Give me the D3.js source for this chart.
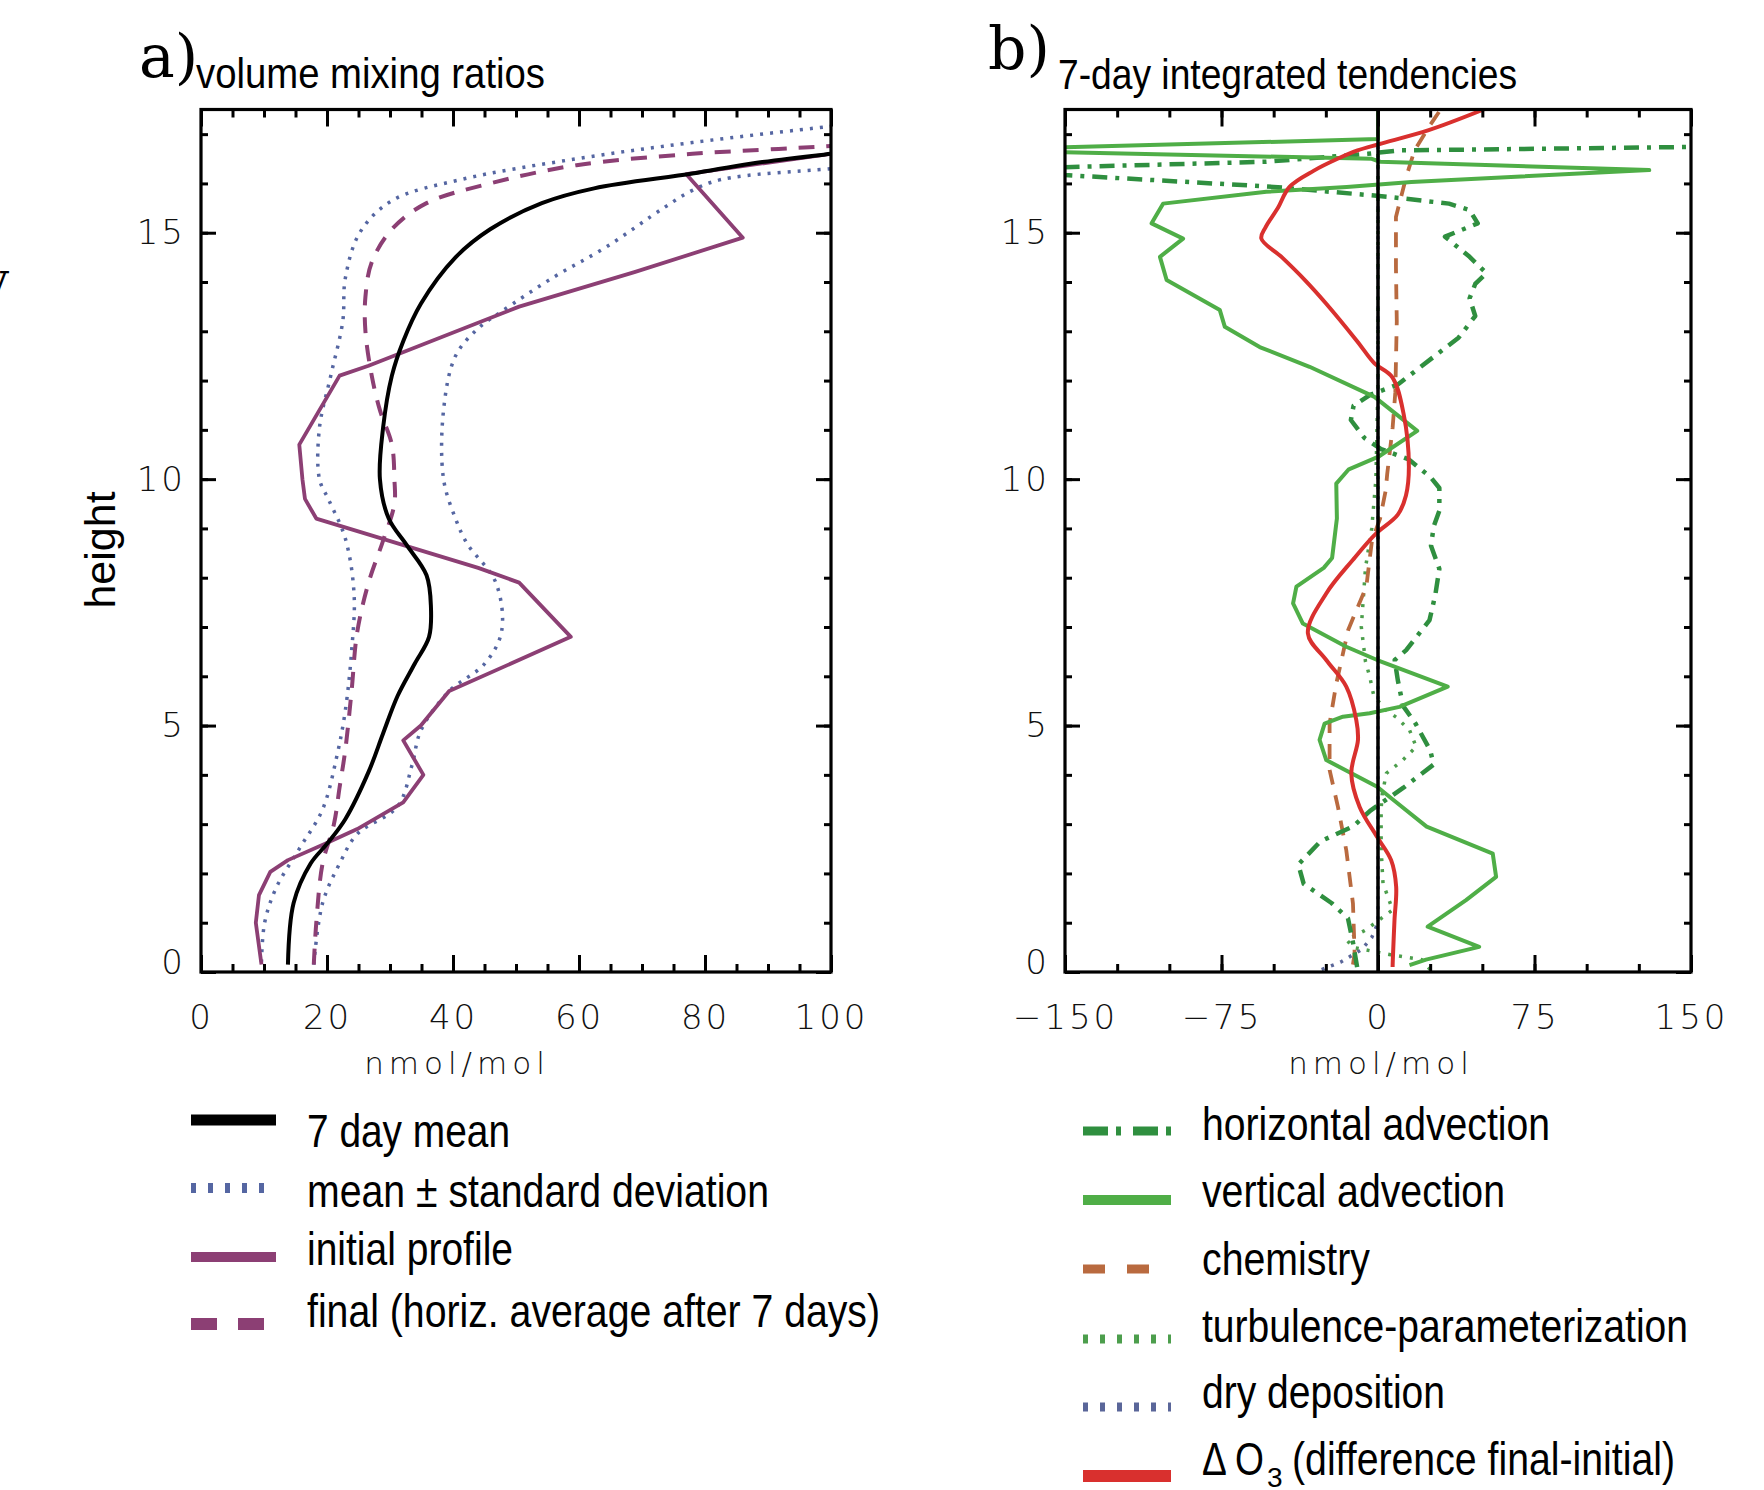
<!DOCTYPE html>
<html><head><meta charset="utf-8">
<script src="https://cdn.jsdelivr.net/npm/d3@7"></script>
<style>
body{margin:0;background:#fff}
.tick text{font-family:"DejaVu Sans",sans-serif;font-weight:200;fill:#111}
</style>
</head><body><svg id="c" width="1764" height="1490"></svg>
<script>
// ---------------- DATA ----------------
// Panel a: volume mixing ratios (height km, nmol/mol)
const hMean   = [0.15,1.4,2.2,2.6,3.1,4.06,4.84,5.6,6.25,6.8,7.4,8.05,8.67,9.2,10,11.04,12.1,12.8,13.56,14.5,15.07,15.6,15.9,16.2,16.4,16.6,16.8];
const vMean   = [13.8,14.7,17.4,20,22.9,26.6,28.9,31.2,33.9,36.2,36.5,35.8,32.6,29.8,28.4,28.9,30.3,32.1,34.9,40.4,45.9,54.1,62.4,78,87.2,100,115];
const hSdLow  = [0.2,1.0,1.7,2.5,3.3,4.4,5.3,6.5,7.66,8.8,9.6,10,11.04,12.1,13.2,14.07,15,15.65,16.08,16.5,16.83,17.16,17.3];
const vSdLow  = [9.6,10.1,11.9,15.6,19.3,21.6,22.9,23.9,24.3,22.9,20.2,18.8,18.8,20.6,22.5,22.9,25.2,30.3,41.3,59.6,78,100,110];
const hSdHigh = [0.15,1.4,2.2,2.8,3.36,4.2,4.9,5.7,6.25,6.9,7.9,8.7,9.2,10,11.4,12.5,13.06,13.4,14.1,14.7,15.5,15.86,16.08,16.3,16.4];
const vSdHigh = [17.9,19.3,22,24.8,31.2,33.5,34.9,39.4,45,47.7,46.8,42.2,40.4,38.5,38.5,40.4,44,47.7,56,64.2,73.4,78,82.6,100,110];
const hInit   = [0.15,1.0,1.56,2.03,2.27,2.6,2.9,3.44,4.0,4.7,5.0,5.7,6.8,7.9,8.2,9.2,9.6,10,10.7,12.1,12.3,13.5,14.2,14.9,16.19,16.6];
const vInit   = [9.6,8.7,9.2,11.0,13.8,19.7,24.8,32.1,35.3,32.1,34.9,39.4,58.7,50.5,44,18.3,16.5,16.1,15.6,22,26.6,50.5,68.8,86,77,100];
const hFinal  = [0.15,1.0,2.2,3.0,3.75,4.5,5.7,6.9,7.9,8.75,9.5,10,10.7,11.4,12.1,13,13.7,14.4,15.07,15.6,16.0,16.37,16.6,16.7,16.76,16.9];
const vFinal  = [17.9,18.3,19.3,21.1,22,22.9,23.9,24.8,26.6,28.9,30.7,30.7,30.3,28.4,27.1,26.1,26.1,27.1,30.3,35.8,45.9,59.6,78,91.7,100,115];

// Panel b: 7-day integrated tendencies (height km, nmol/mol)
const hHadv = [0.1,0.6,1.09,1.4,1.79,2.18,2.65,2.96,3.27,3.74,4.21,4.5,5.04,5.4,5.92,6.33,6.53,7.14,7.66,8.18,8.65,9.04,9.36,9.82,10.03,10.4,10.61,10.83,11.2,11.49,11.71,11.92,12.44,12.87,13.31,13.67,13.96,14.18,14.51,14.92,15.19,15.46,15.59,15.73,15.93,16.17,16.25,16.33,16.44,16.6,16.67,16.74,16.78];
const vHadv = [-10,-12,-14.4,-22.3,-35.6,-38.2,-27.6,-11.7,-3.8,12.2,26.7,25,18,12,9.5,8,13.5,24.7,27.5,29.4,25.4,26.7,29.4,29.4,25.4,14.8,1.5,-6.4,-13,-11.7,-3.8,9.5,25.4,38.6,46.6,43.9,46.6,51.9,43.9,32.1,47.8,43.9,34,4.6,-50,-150,-165,-150,-54,-5,10,150,165];
const hVadv = [0.14,0.25,0.51,0.92,1.46,1.93,2.4,2.95,3.49,3.76,4.3,4.71,5.04,5.18,5.25,5.38,5.79,6.33,6.6,7.07,7.48,7.82,8.2,8.4,9.2,9.91,10.2,10.45,10.98,11.67,12.28,12.68,13.09,13.43,14.04,14.51,14.88,15.19,15.59,15.83,15.93,16.03,16.27,16.44,16.5,16.68,16.9,17.5];
const vVadv = [15.1,23,48.5,23.8,42.2,56.6,55,23.3,7.4,-0.4,-24.8,-28,-25.6,-16.8,-4,10.3,33.4,-0.4,-15.2,-36,-40.7,-39.1,-26,-22,-19.7,-20,-14,0,18.8,-1.7,-32.8,-56.7,-73.4,-75.8,-101.3,-104.5,-93.4,-108.5,-103,-53.5,-15,16,130,1,-3,-200,0,0];
const hChem = [0.15,0.38,1.39,2.47,3.35,4.1,5.04,5.85,6.94,7.82,8.75,9.2,9.77,10.1,11.04,11.76,13.2,14.3,15.32,16.13,16.67,17.14,17.5];
const vChem = [-12,-11.2,-12,-15.2,-19.2,-23.2,-23.2,-20,-14.3,-5.6,-2.9,1,3.7,4.4,7,8.3,9,8.6,8.6,13.5,17.5,24.3,30];
const hTurb = [0.05,0.25,0.35,0.5,0.65,0.85,1.26,1.8,2.5,3.3,3.6,4.03,4.3,4.57,4.91,5.17,5.31,5.6,6.0,6.3,7.0,7.6,8.2,9.0,10.0,12,17.5];
const vTurb = [25,21,6,-12,-15,-6,7,2.4,1.5,1.5,2,4,11.9,18.3,15.1,8.7,3.9,-2,-4,-6,-8,-7,-6,-3,-1,0,0];
const hDry  = [0.05,0.2,0.45,0.7,1.0,17.5];
const vDry  = [-27,-18,-8,-3,0,0];
const hDO3  = [0.1,0.25,1.05,1.73,2.27,2.74,3.35,4.03,4.71,5.11,5.79,6.33,6.87,7.68,8.36,8.89,9.28,9.67,10.25,11.34,12.07,12.35,12.8,13.56,14.03,14.5,14.88,15.11,15.5,15.93,16.26,16.5,16.67,16.8,17.08,17.52];
const vDO3  = [7,7.1,7.9,8.7,6.3,-0.4,-8.8,-12.8,-9.6,-10.4,-15.2,-24.8,-33.6,-24.8,-12.1,-1.1,9.5,13.4,14.8,12.2,6.8,-1.7,-10,-24.8,-34.8,-46,-55.9,-53.9,-48,-42.4,-30.7,-19.4,-9.8,0.7,24.3,51.8];

// Ticks and labels
const yMajor = [0,5,10,15];
const yMinor = d3.range(0,18,1);
const xMajorA = [0,20,40,60,80,100];
const xMinorA = d3.range(0,101,5);
const xMajorB = [-150,-75,0,75,150];
const xMinorB = d3.range(-150,151,25);
const legendA = ["7 day mean","mean \u00B1 standard deviation","initial profile","final (horiz. average after 7 days)"];
const legendB = ["horizontal advection","vertical advection","chemistry","turbulence-parameterization","dry deposition"];

// ---------------- DRAW ----------------
const svg = d3.select("#c");
svg.append("rect").attr("width",1764).attr("height",1490).attr("fill","#fff");

const Y0 = 972, Y1 = 109.5;
const y = d3.scaleLinear().domain([0,17.5]).range([Y0,Y1]);
const xA = d3.scaleLinear().domain([0,100]).range([201,831]);
const xB = d3.scaleLinear().domain([-150,150]).range([1065,1691]);

const defs = svg.append("defs");
function clip(id,x){
  defs.append("clipPath").attr("id",id).append("rect")
    .attr("x",x.range()[0]).attr("y",Y1).attr("width",x.range()[1]-x.range()[0]).attr("height",Y0-Y1);
}
clip("cA",xA); clip("cB",xB);

const COL = {
  black:"#000", blue:"#5566a2", purple:"#8c3f74",
  vgreen:"#4fae47", hgreen:"#2f8f3f", brown:"#b96a3f", tgreen:"#4c9e4c", dblue:"#5a6699", red:"#d9302e"
};

function drawLine(g, x, hs, vs, color, width, dash, curve){
  const pts = hs.map((h,i)=>[vs[i],h]);
  g.append("path").attr("d", d3.line().x(d=>x(d[0])).y(d=>y(d[1])).curve(curve||d3.curveLinear)(pts))
    .attr("fill","none").attr("stroke",color).attr("stroke-width",width)
    .attr("stroke-dasharray",dash||null).attr("stroke-linejoin","round");
}

// Panel a curves
const gA = svg.append("g").attr("clip-path","url(#cA)");
drawLine(gA,xA,hSdLow,vSdLow,COL.blue,3.5,"3,7",d3.curveCatmullRom);
drawLine(gA,xA,hSdHigh,vSdHigh,COL.blue,3.5,"3,7",d3.curveCatmullRom);
drawLine(gA,xA,hInit,vInit,COL.purple,3.8,null,d3.curveLinear);
drawLine(gA,xA,hFinal,vFinal,COL.purple,4,"16,12",d3.curveCatmullRom);
drawLine(gA,xA,hMean,vMean,COL.black,4,null,d3.curveCatmullRom);

// Panel b curves
const gB = svg.append("g").attr("clip-path","url(#cB)");
drawLine(gB,xB,hDry,vDry,COL.dblue,3.5,"3,7",d3.curveLinear);
drawLine(gB,xB,hTurb,vTurb,COL.tgreen,3.5,"3,8",d3.curveLinear);
drawLine(gB,xB,hChem,vChem,COL.brown,3.8,"15,11",d3.curveLinear);
drawLine(gB,xB,hHadv,vHadv,COL.hgreen,4.5,"15,8,4,8",d3.curveLinear);
drawLine(gB,xB,hVadv,vVadv,COL.vgreen,4,null,d3.curveLinear);
drawLine(gB,xB,hDO3,vDO3,COL.red,4,null,d3.curveCatmullRom);
gB.append("line").attr("x1",xB(0)).attr("x2",xB(0)).attr("y1",Y0).attr("y2",Y1)
  .attr("stroke","#000").attr("stroke-width",3.5);

// Axes (inward ticks, all four sides)
function axes(x, xMajor, xMinor){
  const [L,R] = x.range();
  const g = svg.append("g");
  const noLab = "";
  g.append("g").attr("transform",`translate(0,${Y0})`).call(d3.axisBottom(x).tickValues(xMinor).tickSizeInner(-8).tickSizeOuter(0).tickFormat(()=>noLab));
  g.append("g").attr("transform",`translate(0,${Y1})`).call(d3.axisTop(x).tickValues(xMinor).tickSizeInner(-8).tickSizeOuter(0).tickFormat(()=>noLab));
  g.append("g").attr("transform",`translate(${L},0)`).call(d3.axisLeft(y).tickValues(yMinor).tickSizeInner(-7).tickSizeOuter(0).tickFormat(()=>noLab));
  g.append("g").attr("transform",`translate(${R},0)`).call(d3.axisRight(y).tickValues(yMinor).tickSizeInner(-7).tickSizeOuter(0).tickFormat(()=>noLab));
  g.append("g").attr("transform",`translate(0,${Y0})`).call(d3.axisBottom(x).tickValues(xMajor).tickSizeInner(-17).tickSizeOuter(0).tickPadding(33));
  g.append("g").attr("transform",`translate(0,${Y1})`).call(d3.axisTop(x).tickValues(xMajor).tickSizeInner(-17).tickSizeOuter(0).tickFormat(()=>noLab));
  const yl = g.append("g").attr("transform",`translate(${L},0)`).call(d3.axisLeft(y).tickValues(yMajor).tickSizeInner(-15).tickSizeOuter(0).tickPadding(15));
  yl.selectAll(".tick text").filter(d=>d===0).attr("dy","0.05em");
  g.append("g").attr("transform",`translate(${R},0)`).call(d3.axisRight(y).tickValues(yMajor).tickSizeInner(-15).tickSizeOuter(0).tickFormat(()=>noLab));
  g.selectAll(".domain").remove();
  g.selectAll(".tick line").attr("stroke","#000").attr("stroke-width",3);
  g.selectAll(".tick text").attr("font-size",34).attr("letter-spacing",3);
  g.append("rect").attr("x",L).attr("y",Y1).attr("width",R-L).attr("height",Y0-Y1)
    .attr("fill","none").attr("stroke","#000").attr("stroke-width",3.2);
}
axes(xA,xMajorA,xMinorA);
axes(xB,xMajorB,xMinorB);

// Axis titles
function unitLabel(cx){
  svg.append("text").attr("x",cx).attr("y",1074).attr("text-anchor","middle")
    .attr("font-family","DejaVu Sans").attr("font-weight",200).attr("font-size",31)
    .attr("letter-spacing",5).attr("fill","#111").text("nmol/mol");
}
unitLabel(457); unitLabel(1381);
svg.append("text").attr("transform","translate(115,550) rotate(-90)").attr("text-anchor","middle")
  .attr("font-family","Liberation Sans, Arial, sans-serif").attr("font-size",43).text("height");

// Panel titles
const narrow = "Liberation Sans Narrow, Liberation Sans, Arial, sans-serif";
svg.append("text").attr("x",139).attr("y",77).attr("font-family","DejaVu Serif, serif").attr("font-size",60).text("a)");
svg.append("text").attr("x",196).attr("y",88).attr("font-family",narrow).attr("font-size",43)
  .attr("textLength",349).attr("lengthAdjust","spacingAndGlyphs").text("volume mixing ratios");
svg.append("text").attr("x",988).attr("y",69).attr("font-family","DejaVu Serif, serif").attr("font-size",60).text("b)");
svg.append("text").attr("x",1058).attr("y",89).attr("font-family",narrow).attr("font-size",43)
  .attr("textLength",459).attr("lengthAdjust","spacingAndGlyphs").text("7-day integrated tendencies");

// cut-off glyph at left edge of the figure
svg.append("text").attr("x",-22).attr("y",302).attr("font-family","DejaVu Serif, serif").attr("font-size",42).text("V");

// Legend a
const legAstyle = [
  {c:COL.black, w:11, d:null},
  {c:COL.blue, w:10, d:"5,12"},
  {c:COL.purple, w:10, d:null},
  {c:COL.purple, w:12, d:"26,21"}
];
const legAline = [1120,1188,1257,1324];
const legAbase = [1147,1207,1265,1327];
const legAlen  = [203,462,206,573];
legendA.forEach((t,i)=>{
  svg.append("line").attr("x1",191).attr("x2",276).attr("y1",legAline[i]).attr("y2",legAline[i])
    .attr("stroke",legAstyle[i].c).attr("stroke-width",legAstyle[i].w).attr("stroke-dasharray",legAstyle[i].d);
  svg.append("text").attr("x",307).attr("y",legAbase[i]).attr("font-family",narrow).attr("font-size",46)
    .attr("textLength",legAlen[i]).attr("lengthAdjust","spacingAndGlyphs").text(t);
});

// Legend b
const legBstyle = [
  {c:COL.hgreen, w:9, d:"25,8,5,12"},
  {c:COL.vgreen, w:10, d:null},
  {c:COL.brown, w:9, d:"22,22"},
  {c:COL.tgreen, w:9, d:"5,12"},
  {c:COL.dblue, w:9, d:"5,12"},
  {c:COL.red, w:12, d:null}
];
const legBline = [1131,1200,1269,1339,1407,1476];
const legBbase = [1140,1207,1275,1342,1408,1475];
const legBlen  = [348,303,168,486,243];
legBstyle.forEach((s,i)=>{
  svg.append("line").attr("x1",1083).attr("x2",1171).attr("y1",legBline[i]).attr("y2",legBline[i])
    .attr("stroke",s.c).attr("stroke-width",s.w).attr("stroke-dasharray",s.d);
});
legendB.forEach((t,i)=>{
  svg.append("text").attr("x",1202).attr("y",legBbase[i]).attr("font-family",narrow).attr("font-size",46)
    .attr("textLength",legBlen[i]).attr("lengthAdjust","spacingAndGlyphs").text(t);
});
svg.append("text").attr("x",1202).attr("y",1475).attr("font-family",narrow).attr("font-size",46)
  .attr("textLength",62).attr("lengthAdjust","spacingAndGlyphs").text("\u0394 O");
svg.append("text").attr("x",1267).attr("y",1487).attr("font-family",narrow).attr("font-size",28).text("3");
svg.append("text").attr("x",1292).attr("y",1475).attr("font-family",narrow).attr("font-size",46)
  .attr("textLength",383).attr("lengthAdjust","spacingAndGlyphs").text("(difference final-initial)");
</script></body></html>
